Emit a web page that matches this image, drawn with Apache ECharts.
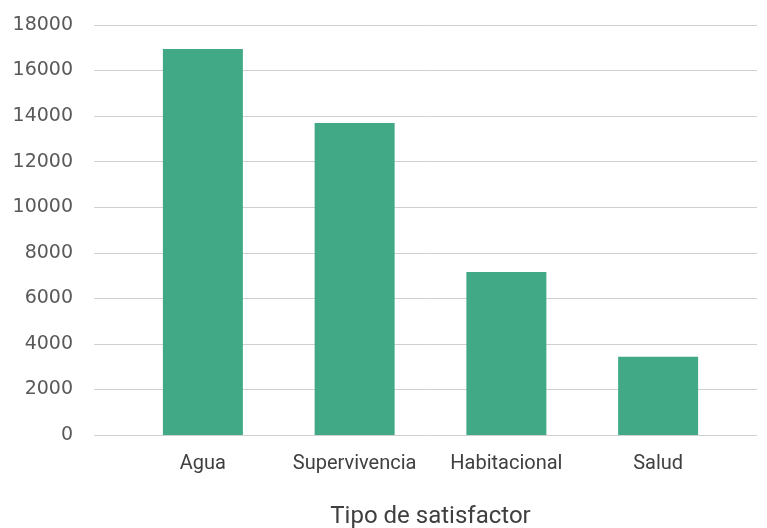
<!DOCTYPE html>
<html>
<head>
<meta charset="utf-8">
<script src="https://cdn.jsdelivr.net/npm/echarts@6/dist/echarts.min.js"></script>
<style>
  html, body { margin: 0; padding: 0; background: #fff; }
  #chart { width: 767px; height: 528px; }
</style>
</head>
<body>
<div id="chart"></div>
<script>
// Satisfactores por tipo
const categories = ['Agua', 'Supervivencia', 'Habitacional', 'Salud'];
const values = [16950, 13700, 7160, 3430];
const yTicks = { min: 0, max: 18000, interval: 2000 };
const axisTitle = 'Tipo de satisfactor';

const chart = echarts.init(document.getElementById('chart'));
chart.setOption({
  animation: false,
  grid: [
    // full-width grid carrying the value axis and gridlines
    { left: 94, right: 10, top: 25, bottom: 93, containLabel: false, outerBoundsMode: 'none' },
    // inner grid carrying the bars and category labels
    { left: 127, right: 33, top: 25, bottom: 93, containLabel: false, outerBoundsMode: 'none' }
  ],
  xAxis: [
    { gridIndex: 0, type: 'value', show: false },
    {
      gridIndex: 1, type: 'category', data: categories,
      axisLine: { show: false }, axisTick: { show: false },
      axisLabel: { color: '#404040', fontFamily: 'Roboto', fontSize: 20, margin: 19, interval: 0 },
      name: axisTitle, nameLocation: 'middle', nameGap: 70,
      nameTextStyle: { color: '#404040', fontFamily: 'Roboto', fontSize: 24 }
    }
  ],
  yAxis: [
    {
      gridIndex: 0, type: 'value', min: yTicks.min, max: yTicks.max, interval: yTicks.interval,
      axisLine: { show: false }, axisTick: { show: false },
      axisLabel: { color: '#595959', fontFamily: 'DejaVu Sans', fontSize: 19, margin: 21,
        formatter: v => String(v) },
      splitLine: { lineStyle: { color: '#d0d0d0', width: 1 } }
    },
    {
      gridIndex: 1, type: 'value', min: yTicks.min, max: yTicks.max, interval: yTicks.interval,
      show: false, splitLine: { show: false }
    }
  ],
  series: [{
    type: 'bar',
    xAxisIndex: 1, yAxisIndex: 1,
    data: values,
    barWidth: 80,
    itemStyle: { color: '#42a987' }
  }]
});
</script>
</body>
</html>
